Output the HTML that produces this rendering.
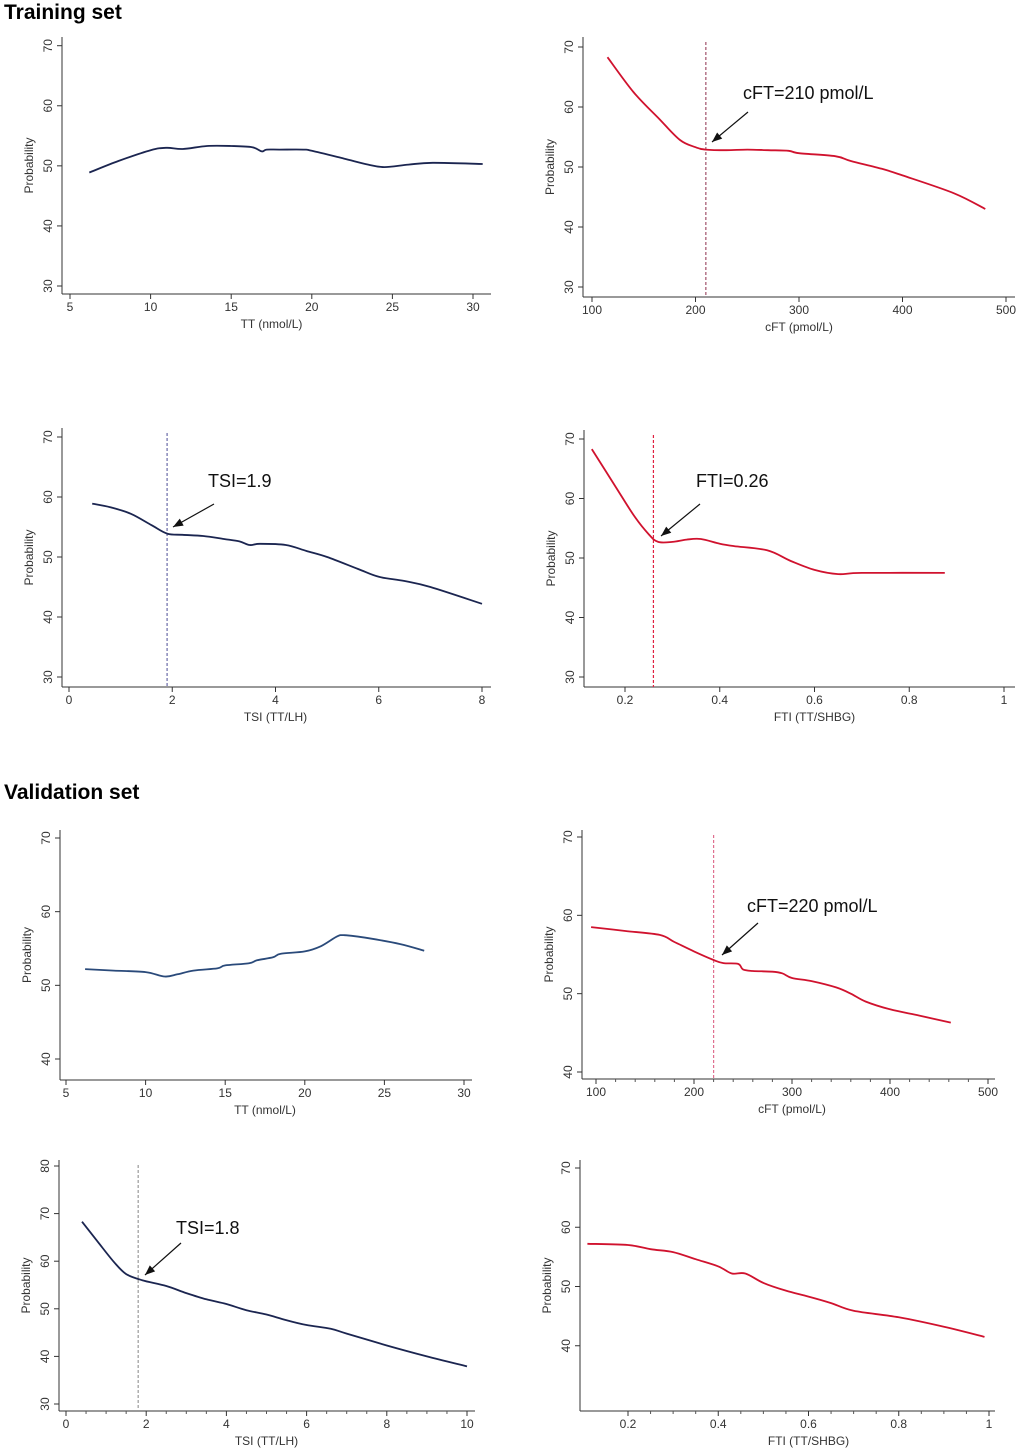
<!DOCTYPE html>
<html><head><meta charset="utf-8"><style>
body{margin:0;background:#fff;}
svg{display:block;font-family:"Liberation Sans",Arial,sans-serif;}
</style></head><body>
<svg id="chart" width="1020" height="1455" viewBox="0 0 1020 1455">
<text x="4" y="19" font-size="21" font-weight="bold">Training set</text>
<text x="4" y="799" font-size="21" font-weight="bold">Validation set</text>
</svg>
<script>
// Data arrays
const tTT_x=[6.2,8,10,11,12,13.5,15,16.3,16.9,17.2,18,19.5,20,22,23.5,24.5,26,27.5,30.6];
const tTT_y=[48.9,50.8,52.6,53,52.8,53.3,53.3,53.1,52.4,52.7,52.7,52.7,52.5,51.2,50.2,49.8,50.2,50.5,50.3];
const tCFT_x=[115,140,165,185,200,210,230,250,270,290,300,335,350,380,400,450,480];
const tCFT_y=[68.3,62.5,58,54.5,53.3,52.9,52.8,52.9,52.8,52.7,52.3,51.8,51,49.7,48.6,45.6,43];
const tTSI_x=[0.45,0.8,1.2,1.6,1.9,2.2,2.6,3,3.3,3.5,3.7,4.2,4.6,5,5.6,6,6.5,7,8];
const tTSI_y=[58.9,58.3,57.2,55.3,53.9,53.7,53.5,53,52.6,52,52.2,52,51,50,48,46.7,46,45,42.2];
const tFTI_x=[0.13,0.18,0.22,0.25,0.27,0.3,0.33,0.36,0.4,0.43,0.5,0.55,0.6,0.65,0.7,0.875];
const tFTI_y=[68.3,62,57,54,52.7,52.7,53.1,53.2,52.4,52,51.3,49.5,48,47.3,47.5,47.5];
const vTT_x=[6.2,8,10,11.2,12,13,14.5,15,16.5,17,18,18.5,20,21,22,22.5,24,26,27.5];
const vTT_y=[52.2,52,51.8,51.2,51.5,52,52.3,52.7,53,53.4,53.8,54.3,54.6,55.3,56.6,56.8,56.4,55.6,54.7];
const vCFT_x=[95,130,165,180,200,220,230,245,250,260,280,290,300,320,345,360,375,400,430,462];
const vCFT_y=[58.5,58,57.5,56.6,55.4,54.3,53.9,53.8,53.1,52.9,52.8,52.6,52,51.6,50.8,50,49,48,47.2,46.3];
const vTSI_x=[0.4,0.8,1.2,1.5,1.9,2.5,3,3.5,4,4.5,5,5.5,6,6.6,7,8,9,10];
const vTSI_y=[68.3,64,59.8,57.3,56,54.8,53.3,52,51,49.7,48.8,47.6,46.6,45.8,44.8,42.3,40,37.9];
const vFTI_x=[0.11,0.2,0.25,0.3,0.35,0.4,0.43,0.46,0.5,0.55,0.6,0.65,0.7,0.8,0.9,0.99];
const vFTI_y=[57.2,57,56.3,55.8,54.6,53.4,52.2,52.2,50.6,49.3,48.3,47.2,45.9,44.8,43.2,41.5];
const xt1=[5,10,15,20,25,30], xt2=[100,200,300,400,500], xt3=[0,2,4,6,8], xt4=[0.2,0.4,0.6,0.8,1], xt7=[0,2,4,6,8,10];
const yt1=[30,40,50,60,70], yt5=[40,50,60,70], yt7=[30,40,50,60,70,80];

const NS='http://www.w3.org/2000/svg';
const svg=document.getElementById('chart');
function mk(tag,attrs,parent){const e=document.createElementNS(NS,tag);for(const k in attrs)e.setAttribute(k,attrs[k]);(parent||svg).appendChild(e);return e;}
function fmt(v){return String(v);}
function smooth(P){let d='M'+P[0][0].toFixed(1)+','+P[0][1].toFixed(1);
  for(let i=0;i<P.length-1;i++){const p0=P[Math.max(0,i-1)],p1=P[i],p2=P[i+1],p3=P[Math.min(P.length-1,i+2)];
    const c1=[p1[0]+(p2[0]-p0[0])/6,p1[1]+(p2[1]-p0[1])/6],c2=[p2[0]-(p3[0]-p1[0])/6,p2[1]-(p3[1]-p1[1])/6];
    d+=` C${c1[0].toFixed(1)},${c1[1].toFixed(1)} ${c2[0].toFixed(1)},${c2[1].toFixed(1)} ${p2[0].toFixed(1)},${p2[1].toFixed(1)}`;}
  return d;}
function panel(p){
  const g=mk('g',{});
  
  
  const sx=v=>p.x0+(v-p.xa)*(p.x1-p.x0)/(p.xb-p.xa);
  const sy=v=>p.y0+(v-p.ya)*(p.y1-p.y0)/(p.yb-p.ya);
  const ax=mk('line',{x1:p.ax,y1:p.top,x2:p.ax,y2:p.bot,stroke:'#333','stroke-width':1},g);
  
  
  const bx=mk('line',{x1:p.ax,y1:p.bot,x2:p.right,y2:p.bot,stroke:'#333','stroke-width':1},g);
  
  
  p.yt.forEach(v=>{const y=sy(v);
    mk('line',{x1:p.ax-5,y1:y,x2:p.ax,y2:y,stroke:'#333'},g);
    const t=mk('text',{x:p.ax-10,y:y,'font-size':12,'text-anchor':'middle',fill:'#333',transform:`rotate(-90 ${p.ax-10} ${y})`},g);
    t.textContent=fmt(v);
    
    });
  p.xt.forEach(v=>{const x=sx(v);
    mk('line',{x1:x,y1:p.bot,x2:x,y2:p.bot+5,stroke:'#333'},g);
    const t=mk('text',{x:x,y:p.bot+17,'font-size':12,'text-anchor':'middle',fill:'#333'},g);
    t.textContent=fmt(v);
    
    });
  if(p.minor){for(let i=0;i<p.xt.length-1;i++){for(let k=1;k<p.minor;k++){const x=sx(p.xt[i]+(p.xt[i+1]-p.xt[i])*k/p.minor);mk('line',{x1:x,y1:p.bot,x2:x,y2:p.bot+3,stroke:'#555'},g);}}}
  const xl=mk('text',{x:(sx(p.xt[0])+sx(p.xt[p.xt.length-1]))/2,y:p.bot+34,'font-size':12,'text-anchor':'middle',fill:'#333'},g);
  xl.textContent=p.xlabel;
  
  
  const ly=(p.top+p.bot)/2, lx=p.ax-29;
  const yl=mk('text',{x:lx,y:ly,'font-size':12,'text-anchor':'middle',fill:'#333',transform:`rotate(-90 ${lx} ${ly})`},g);
  yl.textContent='Probability';
  
  
  if(p.cut!==undefined){const x=sx(p.cut);
    const d=mk('line',{x1:x,y1:p.top+5,x2:x,y2:p.bot,stroke:p.cutColor,'stroke-width':1.2,'stroke-dasharray':'3,2'},g);
    
    }
  const P=p.xs.map((v,i)=>[sx(v),sy(p.ys[i])]);
  const l=mk('path',{d:smooth(P),fill:'none',stroke:p.color,'stroke-width':1.8,'stroke-linejoin':'round'},g);
  
  
  if(p.ann){const a=p.ann;
    const t=mk('text',{x:a.tx,y:a.ty,'font-size':18,fill:'#111'},g);
    t.textContent=a.text;
    
    
    mk('line',{x1:a.x1,y1:a.y1,x2:a.x2,y2:a.y2,stroke:'#111','stroke-width':1.2},g);
    const ang=Math.atan2(a.y2-a.y1,a.x2-a.x1),L=10,W=4;
    const bx2=a.x2-L*Math.cos(ang),by2=a.y2-L*Math.sin(ang);
    const ar=mk('polygon',{points:`${a.x2},${a.y2} ${bx2-W*Math.sin(ang)},${by2+W*Math.cos(ang)} ${bx2+W*Math.sin(ang)},${by2-W*Math.cos(ang)}`,fill:'#111'},g);
    
    }
}
const navy='#1b2550', red='#d0122e';
panel({name:'training-tt-panel',ax:62,top:37,bot:294,right:491,xa:5,xb:30,x0:70,x1:473,ya:30,yb:70,y0:286,y1:45.7,xt:xt1,yt:yt1,xs:tTT_x,ys:tTT_y,color:navy,xlabel:'TT (nmol/L)'});
panel({name:'training-cft-panel',ax:583,top:37,bot:297,right:1015,xa:100,xb:500,x0:592,x1:1006,ya:30,yb:70,y0:287,y1:47,xt:xt2,yt:yt1,xs:tCFT_x,ys:tCFT_y,color:red,xlabel:'cFT (pmol/L)',cut:210,cutColor:'#a0506a',ann:{text:'cFT=210 pmol/L',tx:743,ty:99,x1:748,y1:112,x2:712,y2:142}});
panel({name:'training-tsi-panel',ax:62,top:428,bot:687,right:491,xa:0,xb:8,x0:69,x1:482,ya:30,yb:70,y0:677,y1:437,xt:xt3,yt:yt1,xs:tTSI_x,ys:tTSI_y,color:navy,xlabel:'TSI (TT/LH)',cut:1.9,cutColor:'#6a6aa8',ann:{text:'TSI=1.9',tx:208,ty:487,x1:214,y1:504,x2:173,y2:527}});
panel({name:'training-fti-panel',ax:584,top:430,bot:687,right:1015,xa:0.2,xb:1,x0:625,x1:1004,ya:30,yb:70,y0:677,y1:439,xt:xt4,yt:yt1,xs:tFTI_x,ys:tFTI_y,color:red,xlabel:'FTI (TT/SHBG)',cut:0.26,cutColor:'#e02040',ann:{text:'FTI=0.26',tx:696,ty:487,x1:700,y1:504,x2:661,y2:536}});
panel({name:'validation-tt-panel',ax:60,top:830,bot:1080,right:472,xa:5,xb:30,x0:66,x1:464,ya:40,yb:70,y0:1059,y1:838,xt:xt1,yt:yt5,xs:vTT_x,ys:vTT_y,color:'#2a4a7a',xlabel:'TT (nmol/L)'});
panel({name:'validation-cft-panel',ax:582,top:830,bot:1079,right:995,xa:100,xb:500,x0:596,x1:988,ya:40,yb:70,y0:1072,y1:837,xt:xt2,yt:yt5,xs:vCFT_x,ys:vCFT_y,color:red,xlabel:'cFT (pmol/L)',cut:220,cutColor:'#e07090',minor:5,ann:{text:'cFT=220 pmol/L',tx:747,ty:912,x1:758,y1:923,x2:722,y2:955}});
panel({name:'validation-tsi-panel',ax:59,top:1160,bot:1411,right:475,xa:0,xb:10,x0:66,x1:467,ya:30,yb:80,y0:1404,y1:1166,xt:xt7,yt:yt7,xs:vTSI_x,ys:vTSI_y,color:navy,xlabel:'TSI (TT/LH)',cut:1.8,cutColor:'#999',minor:4,ann:{text:'TSI=1.8',tx:176,ty:1234,x1:181,y1:1243,x2:145,y2:1275}});
panel({name:'validation-fti-panel',ax:580,top:1160,bot:1411,right:995,xa:0.2,xb:1,x0:628,x1:989,ya:30,yb:70,y0:1405,y1:1168,xt:xt4,yt:yt5,xs:vFTI_x,ys:vFTI_y,color:red,xlabel:'FTI (TT/SHBG)',minor:4});
</script>
</body></html>
